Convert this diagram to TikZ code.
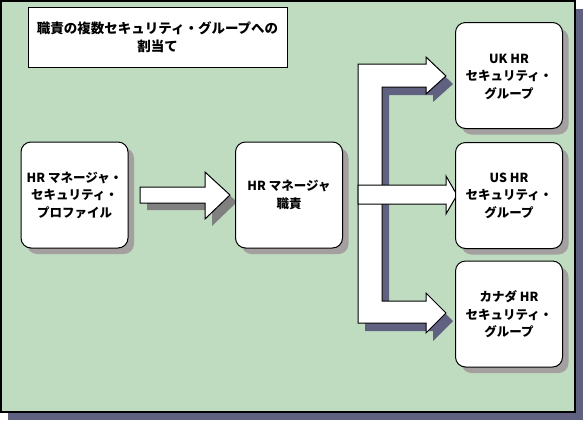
\documentclass[tikz,border=0pt]{standalone}
\usepackage{fontspec}
\setmainfont{Noto Sans CJK JP}
\usetikzlibrary{shadows}
\definecolor{panelgreen}{HTML}{C0DCC0}
\definecolor{panelshadow}{HTML}{606080}
\definecolor{boxshadow}{HTML}{A4A0A0}
\definecolor{arrowshadow}{HTML}{808080}

\begin{document}
\begin{tikzpicture}[x=1pt,y=-1pt,
	label text/.style={font=\fontsize{12.5}{17.5}\selectfont\bfseries,align=center},
	role box/.style={label text,draw,fill=white,line width=1pt,rounded corners=10pt,
		minimum width=107pt,minimum height=106pt,inner sep=0pt,
		drop shadow={shadow xshift=6pt,shadow yshift=-6pt,fill=boxshadow,opacity=1}}]
	\useasboundingbox (0,0) rectangle (585,421);
	% panel
	\fill[panelshadow] (8,9) rectangle (583,420);
	\draw[fill=panelgreen,line width=1.5pt] (1,1) rectangle (575,412);
	\node[label text,font=\fontsize{13.5}{18}\selectfont\bfseries,draw,fill=white,line width=1pt,
		minimum width=259pt,minimum height=60pt]
		(title) at (157.5,37) {職責の複数セキュリティ・グループへの\\割当て};
	% block arrows
	\fill[arrowshadow,shift={(7,7)}]
	(140,187) -- (205,187) -- (205,172) -- (230,195) -- (205,219) -- (205,203) -- (140,203) -- cycle;
	\draw[fill=white,line width=1pt]
	(140,187) -- (205,187) -- (205,172) -- (230,195) -- (205,219) -- (205,203) -- (140,203) -- cycle;
	\fill[panelshadow,shift={(7,8)}]
	(358,64) -- (426,64) -- (426,57) -- (446,76) -- (426,94) -- (426,87) -- (382,87)
	-- (382,301) -- (426,301) -- (426,293) -- (446,313) -- (426,333) -- (426,323) -- (358,323) -- cycle;
	\draw[fill=white,line width=1pt]
	(358,64) -- (426,64) -- (426,57) -- (446,76) -- (426,94) -- (426,87) -- (382,87)
	-- (382,301) -- (426,301) -- (426,293) -- (446,313) -- (426,333) -- (426,323) -- (358,323) -- cycle;
	\draw[fill=white,line width=1pt]
	(358,185) -- (446,185) -- (446,176) -- (457,195) -- (446,214) -- (446,204) -- (358,204) -- cycle;
	% boxes
	\node[role box] (profile) at (74.5,195) {HR マネージャ・\\セキュリティ・\\プロファイル};
	\node[role box] (duty) at (289,195) {HR マネージャ\\職責};
	\node[role box] (uk) at (509,75.5) {\\[-6pt]UK HR\\セキュリティ・\\グループ};
	\node[role box] (us) at (509,195.5) {US HR\\セキュリティ・\\グループ};
	\node[role box] (canada) at (509,314) {\\[-6pt]カナダ HR\\セキュリティ・\\グループ};
\end{tikzpicture}
\end{document}
